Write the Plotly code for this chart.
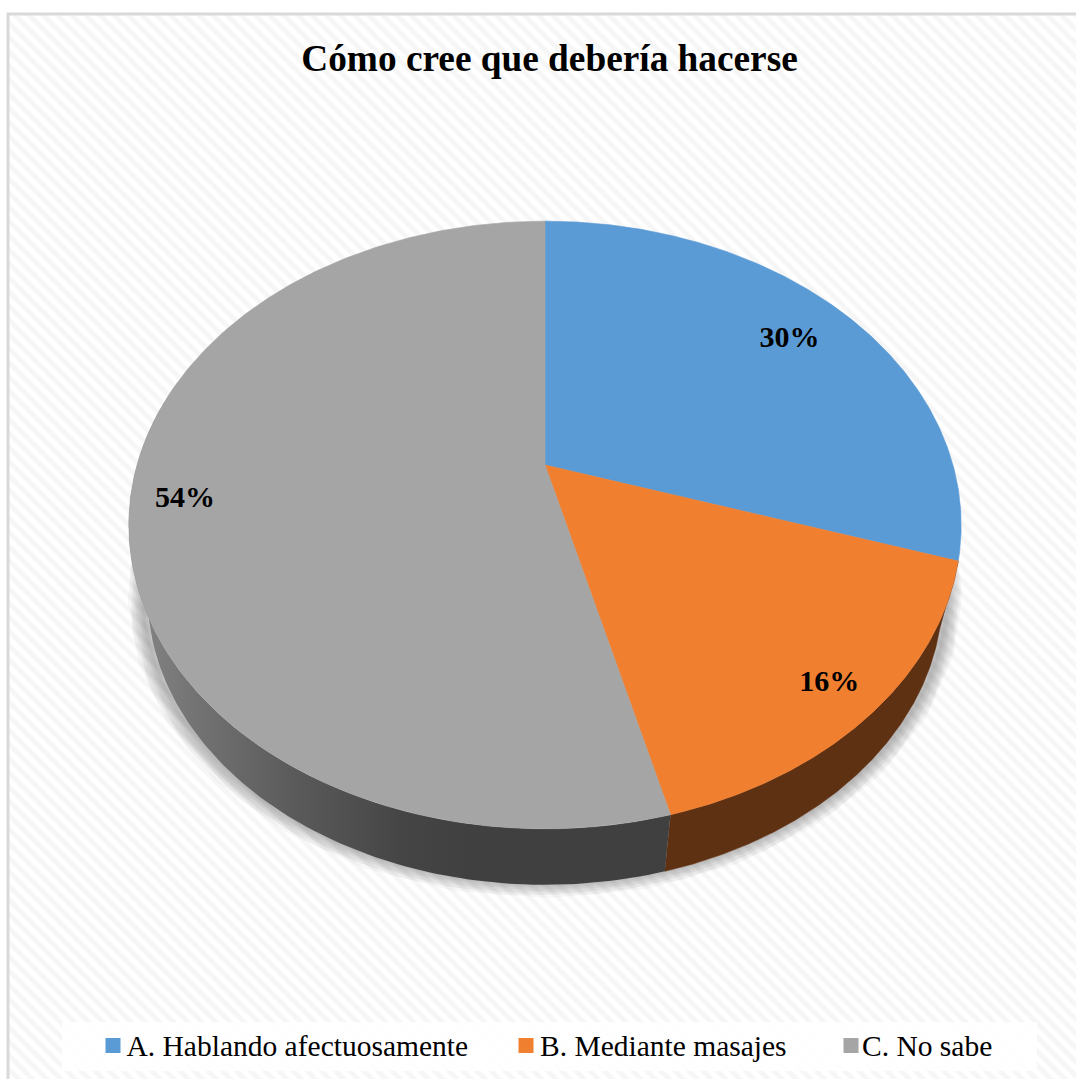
import numpy as np
import plotly.graph_objects as go

# Chart content
title_text = "Cómo cree que debería hacerse"
categories = ["A. Hablando afectuosamente", "B. Mediante masajes", "C. No sabe"]
percentages = [30, 16, 54]
top_colors = ["#5B9BD5", "#F07F30", "#A5A5A5"]
label_radii = [0.81, 0.888, 0.87]

# Tilted-disc geometry, in page pixels
WIDTH, HEIGHT = 1076, 1079
CX, CY = 545.0, 465.0
AX, BY, PERSP = 408.0, 292.0, 0.1974
RIM_SCALE, RIM_CY = 0.955, 537.4

# Key squares and their captions along the bottom band
key_x = [113, 526, 851]
key_text_x = [126.5, 540, 862]
KEY_Y = 1045.5
KEY_TEXT_Y = 1048.5
LABEL_DY = 1.5


def disc_point(radius, pct):
    """Project a point of the pie (radius 0-1, clockwise percent from 12 o'clock)."""
    a = np.asarray(pct) / 100.0 * 2 * np.pi
    u, v = radius * np.sin(a), radius * np.cos(a)
    w = 1 + PERSP * v
    return CX + AX * u / w, CY - BY * v / w


def rim_point(pct):
    """Same pie outline on the underside of the disc."""
    x, y = disc_point(1.0, pct)
    return CX + RIM_SCALE * (x - CX), RIM_CY + RIM_SCALE * (y - CY)


fig = go.Figure()

# Hatched chart area, bleeding off the right and bottom edges
fig.add_trace(go.Scatter(
    x=[8, WIDTH, WIDTH, 8, 8], y=[14, 14, HEIGHT, HEIGHT, 14],
    mode="none", fill="toself", fillcolor="#FFFFFF",
    fillpattern=dict(shape="\\", size=10, solidity=0.5, fgcolor="#EEEEEE", bgcolor="#FFFFFF"),
    hoverinfo="skip", showlegend=False,
))

# Frame: only the top and left sides fall inside the page
fig.add_trace(go.Scatter(
    x=[WIDTH, 8, 8], y=[14, 14, HEIGHT],
    mode="lines", line=dict(color="#D9D9D9", width=3),
    hoverinfo="skip", showlegend=False,
))

# Key band
fig.add_trace(go.Scatter(
    x=[62, 1037, 1037, 62, 62], y=[1022, 1022, 1071, 1071, 1022],
    mode="none", fill="toself", fillcolor="rgba(255,255,255,0.88)",
    hoverinfo="skip", showlegend=False,
))

edges = np.concatenate([[0], np.cumsum(percentages)]).astype(float)

# Soft shadow under the front of the pie
front = np.linspace(25, 75, 260)
sx, sy = rim_point(front)
for lw in range(30, 2, -3):
    fig.add_trace(go.Scatter(
        x=CX + 1.012 * (sx - CX), y=sy - 2, mode="lines",
        line=dict(color="rgba(60,60,60,0.045)", width=lw),
        hoverinfo="skip", showlegend=False,
    ))

# Side walls of the orange and grey slices
wall_styles = {
    1: dict(fillcolor="#5F3113", line=dict(color="#5F3113", width=0.5)),
    2: dict(
        fillgradient=dict(
            type="horizontal", start=135, stop=670,
            colorscale=[[0, "#858585"], [0.12, "#727272"], [0.3, "#5A5A5A"],
                        [0.5, "#454545"], [0.62, "#404040"], [1, "#404040"]],
        ),
        line=dict(color="rgba(64,64,64,0)", width=0),
    ),
}
for i, style in wall_styles.items():
    t = np.linspace(edges[i], edges[i + 1], 200)
    t = t[(t <= 80)]
    x1, y1 = disc_point(1.0, t)
    x2, y2 = rim_point(t)
    fig.add_trace(go.Scatter(
        x=np.concatenate([x1, x2[::-1], x1[:1]]),
        y=np.concatenate([y1, y2[::-1], y1[:1]]),
        mode="lines", fill="toself", hoverinfo="skip", showlegend=False, **style,
    ))

# Top faces
for i, color in enumerate(top_colors):
    t = np.linspace(edges[i], edges[i + 1], 240)
    x, y = disc_point(1.0, t)
    fig.add_trace(go.Scatter(
        x=np.concatenate([[CX], x, [CX]]), y=np.concatenate([[CY], y, [CY]]),
        mode="lines", fill="toself", fillcolor=color, line=dict(color=color, width=0.6),
        name=categories[i], hoverinfo="skip", showlegend=False,
    ))

# Percentage labels at each slice's midpoint
mids = (edges[:-1] + edges[1:]) / 2
lx, ly = zip(*[disc_point(r, m) for r, m in zip(label_radii, mids)])
fig.add_trace(go.Scatter(
    x=lx, y=[v + LABEL_DY for v in ly], mode="text", text=[f"<b>{p}%</b>" for p in percentages],
    textposition="middle center",
    textfont=dict(family="Liberation Serif", size=30, color="#000000"),
    hoverinfo="skip", showlegend=False,
))

# Category key
fig.add_trace(go.Scatter(
    x=key_x, y=[KEY_Y] * 3, mode="markers",
    marker=dict(symbol="square", size=15, color=top_colors, line=dict(width=0)),
    hoverinfo="skip", showlegend=False,
))
fig.add_trace(go.Scatter(
    x=key_text_x, y=[KEY_TEXT_Y] * 3, mode="text", text=categories,
    textposition="middle right",
    textfont=dict(family="Liberation Serif", size=29.5, color="#000000"),
    hoverinfo="skip", showlegend=False,
))

fig.update_layout(
    width=WIDTH, height=HEIGHT,
    margin=dict(l=0, r=0, t=0, b=0),
    paper_bgcolor="#FFFFFF", plot_bgcolor="#FFFFFF",
    xaxis=dict(range=[0, WIDTH], visible=False, fixedrange=True),
    yaxis=dict(range=[HEIGHT, 0], visible=False, fixedrange=True),
    title=dict(
        text=f"<b>{title_text}</b>", x=549.5 / WIDTH, xanchor="center",
        y=1 - 58 / HEIGHT, yanchor="middle",
        font=dict(family="Liberation Serif", size=37.3, color="#000000"),
    ),
    showlegend=False,
)

fig.write_html("out.html")
